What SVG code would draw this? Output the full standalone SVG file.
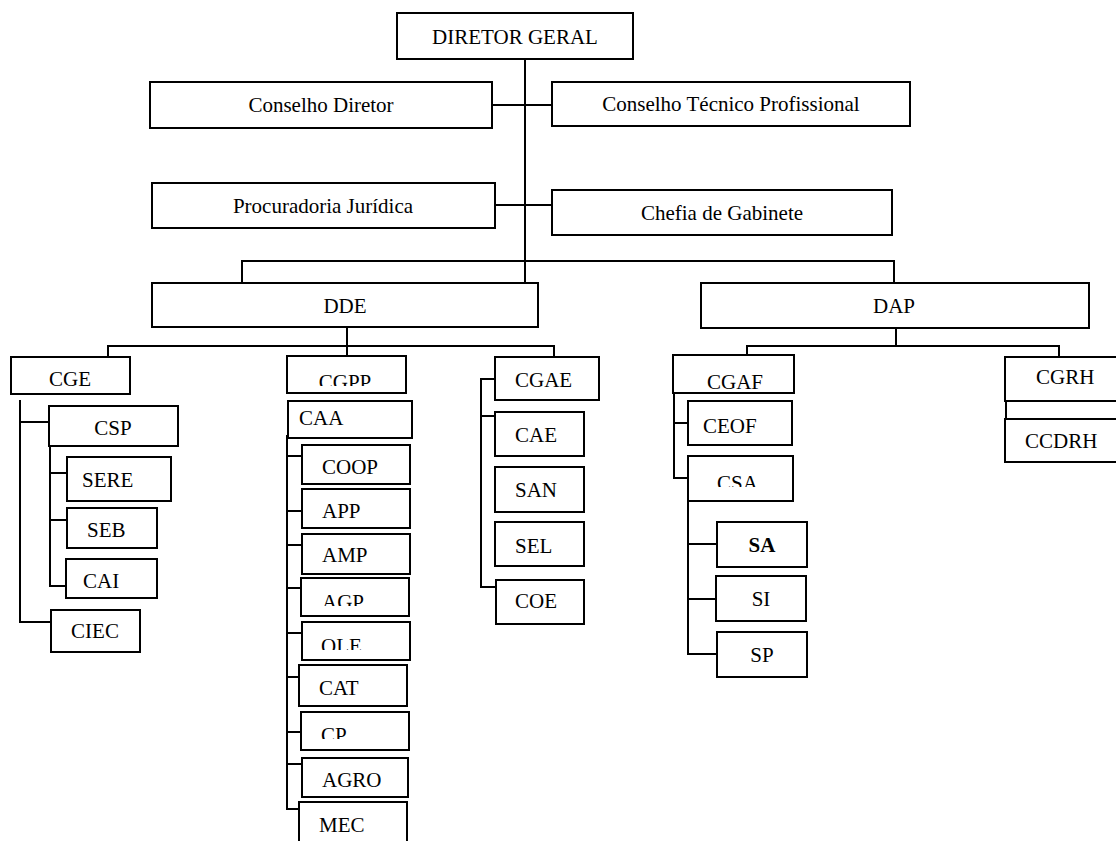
<svg xmlns="http://www.w3.org/2000/svg" width="1116" height="841" viewBox="0 0 1116 841">
<style>
.box{fill:#fff;stroke:#000;stroke-width:2}
.ln{stroke:#000;stroke-width:2;fill:none}
.t{font-family:"Liberation Serif","Times New Roman",serif;font-size:21px;fill:#000}
.c{text-anchor:middle}
.b{font-weight:bold}
</style>
<defs>
<clipPath id="k1"><rect x="280" y="350" width="140" height="36"/></clipPath>
<clipPath id="k2"><rect x="295" y="575" width="120" height="31"/></clipPath>
<clipPath id="k3"><rect x="295" y="620" width="120" height="30"/></clipPath>
<clipPath id="k4"><rect x="295" y="708" width="120" height="31"/></clipPath>
<clipPath id="k5"><rect x="680" y="452" width="120" height="35"/></clipPath>
</defs>
<rect width="1116" height="841" fill="#fff"/>
<g id="connectors">
<path class="ln" d="M525 59V284M490 105H552M495 205H552M242 283V261H894V283"/>
<path class="ln" d="M347 327V356M108 357V346H554V357"/>
<path class="ln" d="M896 328V346M747 355V346H1059V357"/>
<path class="ln" d="M20 400V622H51M20 422H49M50 446V586H66M50 473H67M50 520H67"/>
<path class="ln" d="M287 435V809H302M287 456H302M287 511H302M287 545H302M287 588H301M287 633H302M287 677H302M287 732H301M287 764H302"/>
<path class="ln" d="M495 379H481V587H496M481 416H495"/>
<path class="ln" d="M674 393V478H688M674 423H688M688 501V654H717M688 544H717M688 599H716"/>
<path class="ln" d="M1006 401V419"/>
</g>
<g id="n-diretor"><rect class="box" x="397" y="13" width="236" height="46"/><text class="t c" x="515" y="44">DIRETOR GERAL</text></g>
<g id="n-conselho-diretor"><rect class="box" x="150" y="82" width="342" height="46"/><text class="t c" x="321" y="112">Conselho Diretor</text></g>
<g id="n-conselho-tecnico"><rect class="box" x="552" y="82" width="358" height="44"/><text class="t c" x="731" y="111">Conselho Técnico Profissional</text></g>
<g id="n-procuradoria"><rect class="box" x="152" y="183" width="343" height="45"/><text class="t c" x="323" y="213">Procuradoria Jurídica</text></g>
<g id="n-chefia"><rect class="box" x="552" y="190" width="340" height="45"/><text class="t c" x="722" y="220">Chefia de Gabinete</text></g>
<g id="n-dde"><rect class="box" x="152" y="283" width="386" height="44"/><text class="t c" x="345" y="313">DDE</text></g>
<g id="n-dap"><rect class="box" x="701" y="283" width="388" height="45"/><text class="t c" x="894" y="313">DAP</text></g>
<g id="n-cge"><rect class="box" x="11" y="357" width="119" height="37"/><text class="t c" x="70" y="386">CGE</text></g>
<g id="n-csp"><rect class="box" x="49" y="406" width="129" height="40"/><text class="t c" x="113" y="435">CSP</text></g>
<g id="n-sere"><rect class="box" x="67" y="457" width="104" height="44"/><text class="t" x="82" y="487">SERE</text></g>
<g id="n-seb"><rect class="box" x="67" y="508" width="90" height="40"/><text class="t" x="87" y="537">SEB</text></g>
<g id="n-cai"><rect class="box" x="66" y="559" width="91" height="39"/><text class="t" x="83" y="588">CAI</text></g>
<g id="n-ciec"><rect class="box" x="51" y="610" width="89" height="42"/><text class="t c" x="95" y="638">CIEC</text></g>
<g id="n-cgpp"><rect class="box" x="287" y="356" width="119" height="37"/><text class="t c" x="345" y="389" clip-path="url(#k1)">CGPP</text></g>
<g id="n-caa"><rect class="box" x="288" y="401" width="124" height="37"/><text class="t" x="299" y="425">CAA</text></g>
<g id="n-coop"><rect class="box" x="302" y="445" width="108" height="39"/><text class="t" x="322" y="474">COOP</text></g>
<g id="n-app"><rect class="box" x="302" y="489" width="108" height="39"/><text class="t" x="322" y="518">APP</text></g>
<g id="n-amp"><rect class="box" x="302" y="534" width="108" height="40"/><text class="t" x="322" y="562">AMP</text></g>
<g id="n-agp"><rect class="box" x="301" y="578" width="108" height="38"/><text class="t" x="322" y="609" clip-path="url(#k2)">AGP</text></g>
<g id="n-ole"><rect class="box" x="302" y="622" width="108" height="38"/><text class="t" x="321" y="653" clip-path="url(#k3)">OLE</text></g>
<g id="n-cat"><rect class="box" x="299" y="665" width="108" height="41"/><text class="t" x="319" y="695">CAT</text></g>
<g id="n-cp"><rect class="box" x="301" y="712" width="108" height="38"/><text class="t" x="321" y="742" clip-path="url(#k4)">CP</text></g>
<g id="n-agro"><rect class="box" x="302" y="758" width="106" height="39"/><text class="t" x="322" y="787">AGRO</text></g>
<g id="n-mec"><rect class="box" x="299" y="802" width="108" height="45"/><text class="t" x="319" y="832">MEC</text></g>
<g id="n-cgae"><rect class="box" x="495" y="357" width="104" height="43"/><text class="t" x="515" y="387">CGAE</text></g>
<g id="n-cae"><rect class="box" x="495" y="412" width="89" height="44"/><text class="t" x="515" y="442">CAE</text></g>
<g id="n-san"><rect class="box" x="495" y="467" width="89" height="45"/><text class="t" x="515" y="497">SAN</text></g>
<g id="n-sel"><rect class="box" x="495" y="522" width="89" height="44"/><text class="t" x="515" y="553">SEL</text></g>
<g id="n-coe"><rect class="box" x="496" y="580" width="88" height="44"/><text class="t" x="515" y="608">COE</text></g>
<g id="n-cgaf"><rect class="box" x="673" y="355" width="121" height="38"/><text class="t c" x="735" y="389">CGAF</text></g>
<g id="n-ceof"><rect class="box" x="688" y="401" width="104" height="44"/><text class="t" x="703" y="433">CEOF</text></g>
<g id="n-csa"><rect class="box" x="688" y="456" width="105" height="45"/><text class="t" x="717" y="490" clip-path="url(#k5)">CSA</text></g>
<g id="n-sa"><rect class="box" x="717" y="522" width="90" height="45"/><text class="t c b" x="762" y="552">SA</text></g>
<g id="n-si"><rect class="box" x="716" y="576" width="90" height="45"/><text class="t c" x="761" y="606">SI</text></g>
<g id="n-sp"><rect class="box" x="717" y="632" width="90" height="45"/><text class="t c" x="762" y="662">SP</text></g>
<g id="n-cgrh"><rect class="box" x="1005" y="357" width="120" height="44"/><text class="t" x="1036" y="384">CGRH</text></g>
<g id="n-ccdrh"><rect class="box" x="1005" y="419" width="120" height="43"/><text class="t" x="1025" y="448">CCDRH</text></g>
</svg>
